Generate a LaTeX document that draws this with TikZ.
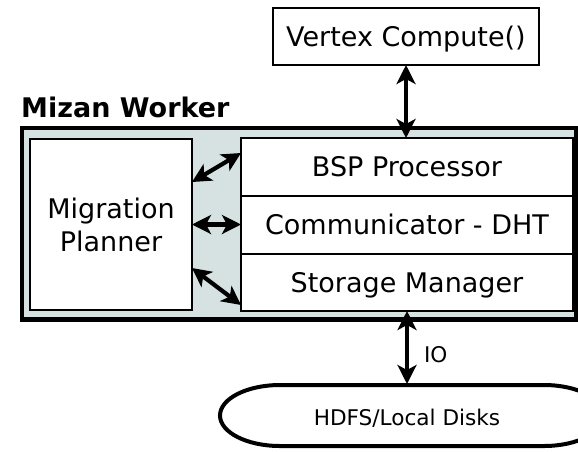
\documentclass[tikz,border=0pt]{standalone}
\usepackage{fontspec}
\setmainfont{DejaVu Sans}
\usetikzlibrary{arrows.meta}
\definecolor{workerfill}{RGB}{214,226,226}
\tikzset{
  box/.style={draw, fill=white, line width=1.6pt, inner sep=0pt, outer sep=0pt,
    font=\fontsize{27}{33}\selectfont, text height=19.7pt, text depth=0pt},
  plannerbox/.style={draw, fill=white, line width=1.6pt, inner sep=0pt, outer sep=0pt,
    font=\fontsize{27}{33}\selectfont, align=center},
  biarrow/.style={line width=4.2pt,
    {Stealth[length=19pt,width=19pt,inset=5pt]}-{Stealth[length=19pt,width=19pt,inset=5pt]}},
  smalltext/.style={font=\fontsize{21.6}{26}\selectfont, inner sep=0pt},
}
\begin{document}
\begin{tikzpicture}[x=1pt, y=-1pt]
  \useasboundingbox (0,0) rectangle (578,451);

  % worker frame
  \node[draw, fill=workerfill, line width=4.5pt, inner sep=0pt, outer sep=0pt,
        minimum width=554pt, minimum height=191.5pt] (worker) at (299,223.75) {};
  \node[anchor=base west, inner sep=0pt, font=\fontsize{27}{33}\selectfont\bfseries]
        (title) at (21,117) {Mizan Worker};

  % components inside the worker
  \node[plannerbox, minimum width=162pt, minimum height=171pt] (mp) at (111,224.5)
        {Migration\\Planner};
  \node[box, minimum width=332pt, minimum height=58pt] (bsp)  at (407,167)   {BSP Processor};
  \node[box, minimum width=332pt, minimum height=58pt] (comm) at (407,225)   {Communicator - DHT};
  \node[box, minimum width=332pt, minimum height=57pt] (stor) at (407,282.5) {Storage Manager};

  % user code on top
  \node[box, minimum width=266pt, minimum height=57pt] (vc) at (406,36.5) {Vertex Compute()};

  % storage backend (stadium shape, cut by the page edge)
  \begin{scope}
    \clip (0,0) rectangle (578,451);
    \draw[line width=4pt, fill=white]
      (280,385) -- (544,385)
      arc[start angle=-90, end angle=90, x radius=60, y radius=30.5]
      -- (280,446)
      arc[start angle=90, end angle=270, x radius=60, y radius=30.5]
      -- cycle;
  \end{scope}
  \coordinate (hdfstop) at (407,384);
  \node[smalltext] (hdfs) at (407,418) {HDFS/Local Disks};

  % connectors
  \draw[biarrow] (vc.south) -- (vc.south |- bsp.north);
  \draw[biarrow] ([yshift=42.5pt]mp.east) -- ([yshift=14pt]bsp.west);
  \draw[biarrow] (mp.east) -- (mp.east -| comm.west);
  \draw[biarrow] ([yshift=-43.5pt]mp.east) -- ([yshift=-22.5pt]stor.west);
  \draw[biarrow] (stor.south) -- (hdfstop)
    node[smalltext, pos=0.6, anchor=west, xshift=15pt] (io) {IO};
\end{tikzpicture}
\end{document}
